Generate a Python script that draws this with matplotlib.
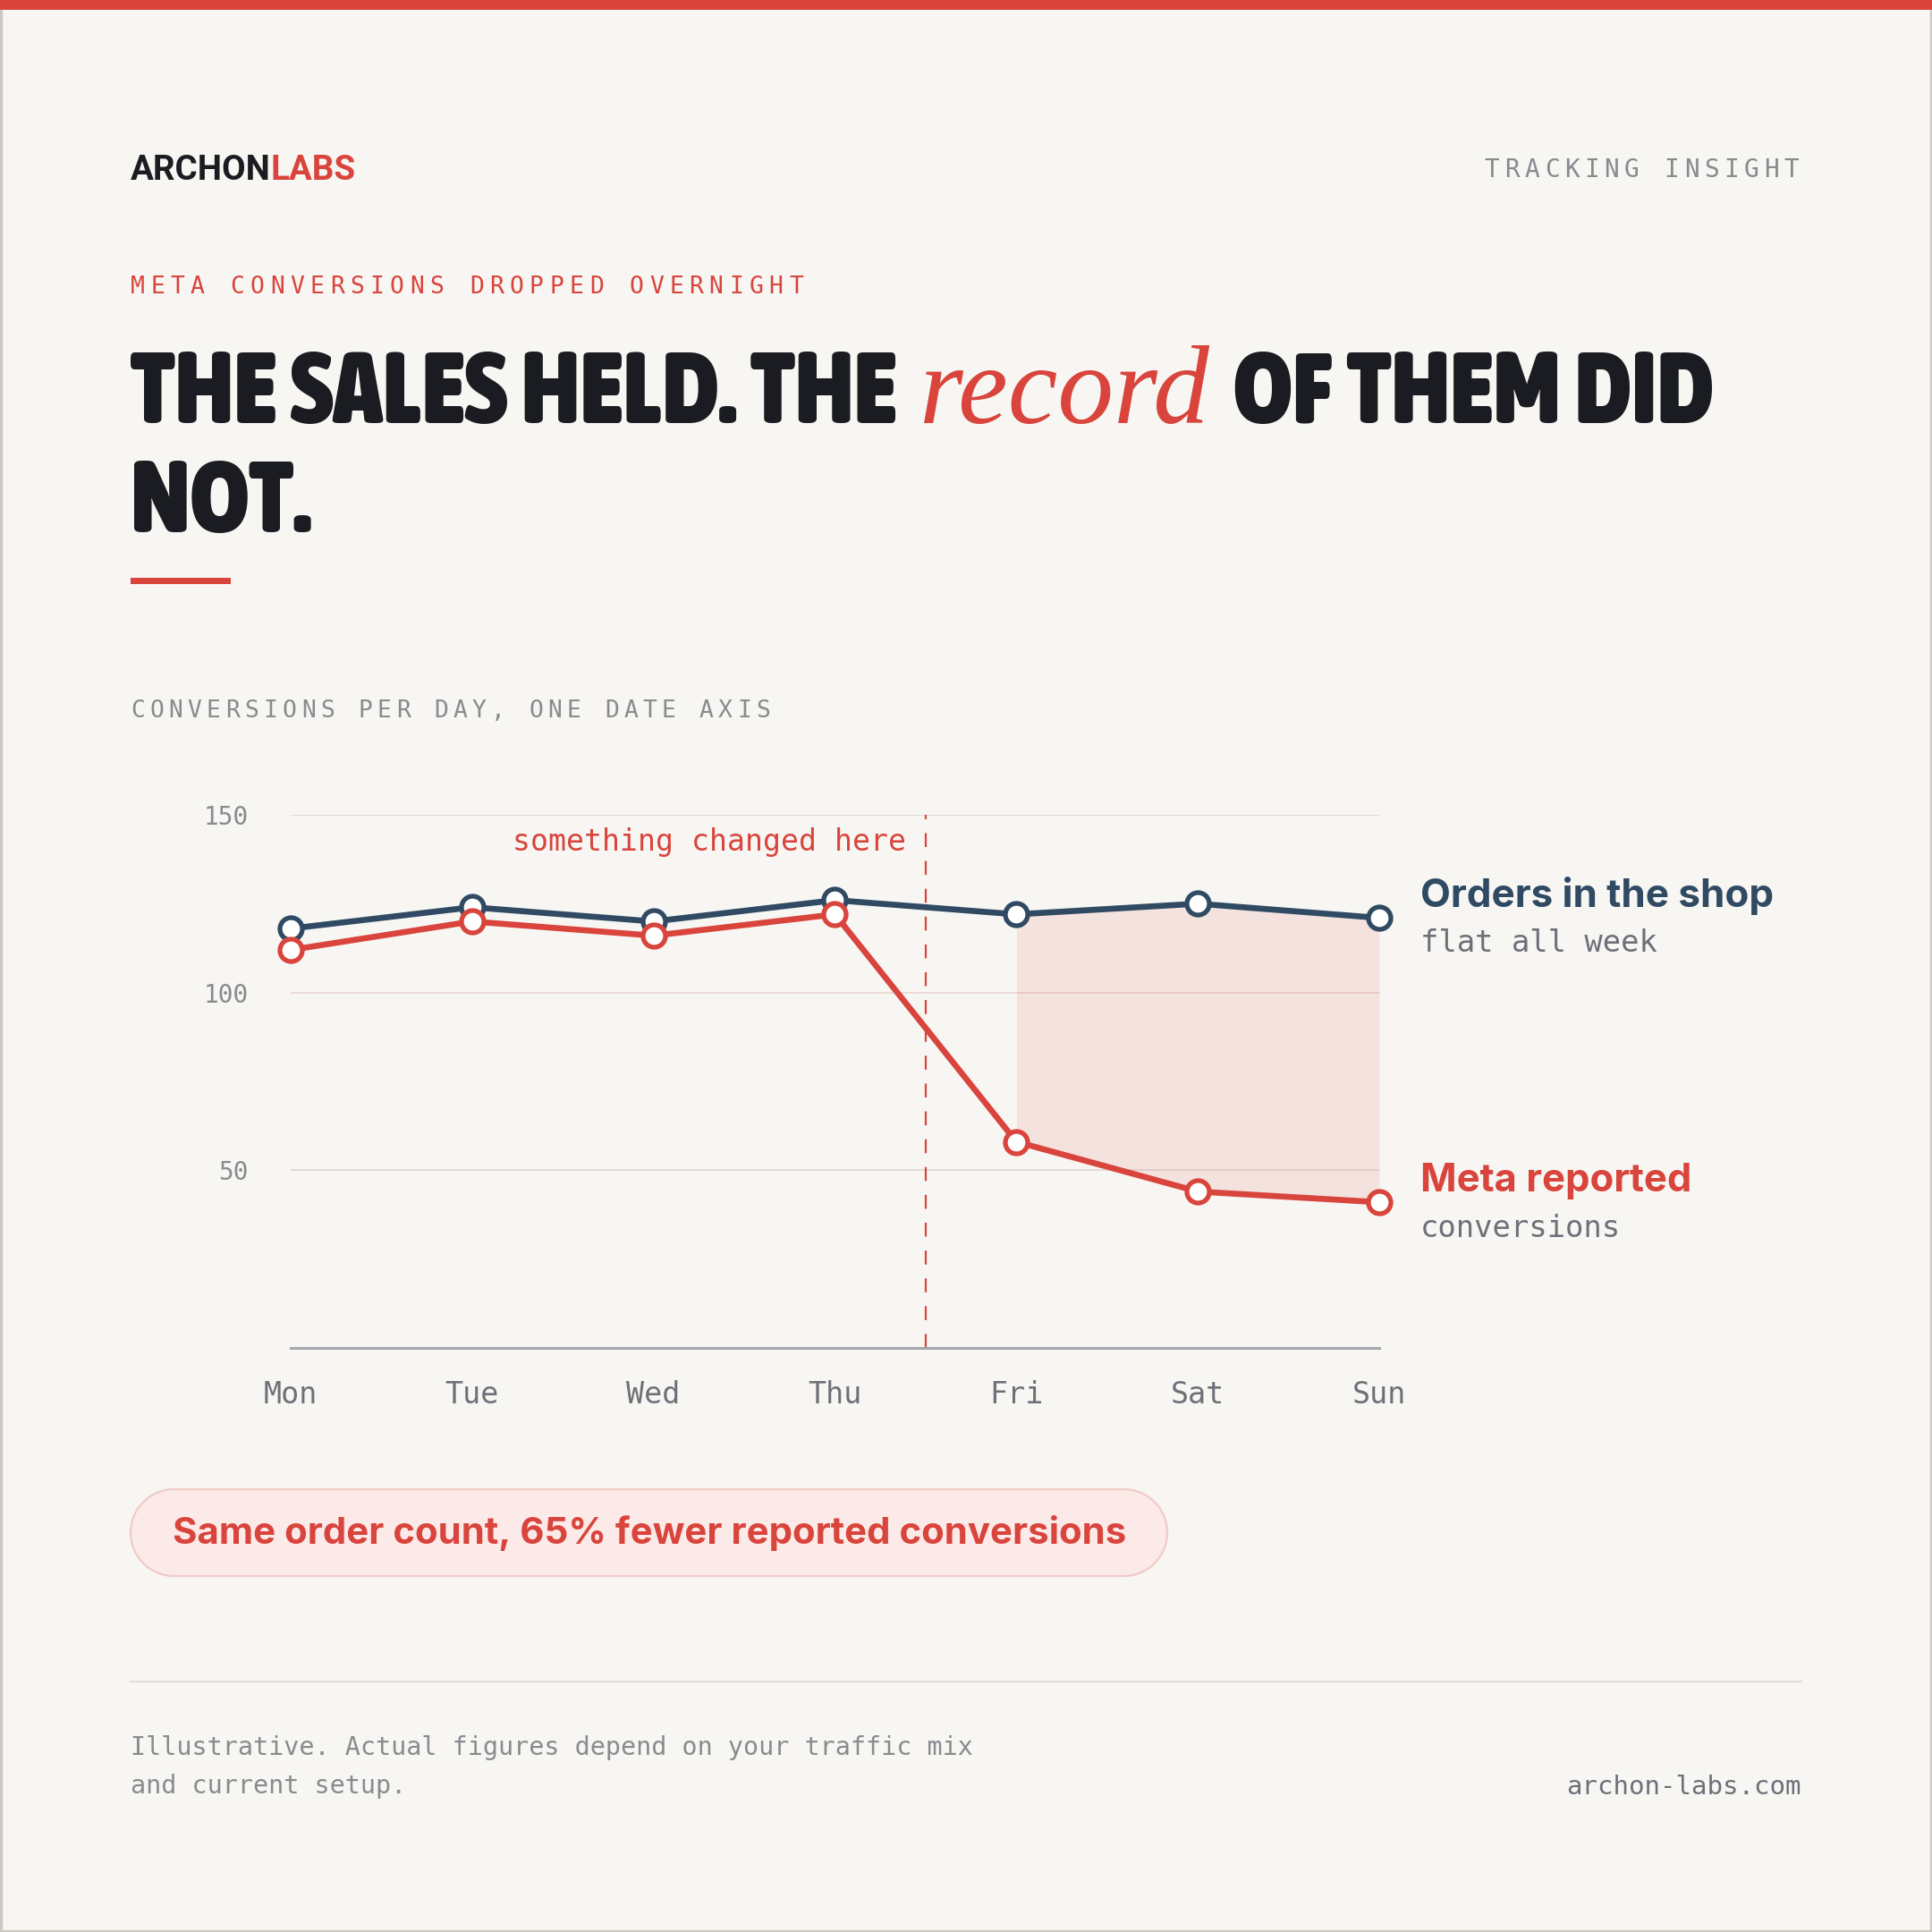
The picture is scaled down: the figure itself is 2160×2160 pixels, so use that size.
import matplotlib
matplotlib.use("Agg")
import matplotlib.pyplot as plt
from matplotlib import font_manager as fm
from matplotlib.patches import Rectangle, Polygon
import numpy as np

# data
days = ["Mon", "Tue", "Wed", "Thu", "Fri", "Sat", "Sun"]
shop_orders = [118, 124, 120, 126, 122, 125, 121]
meta_reported = [112, 120, 116, 122, 58, 44, 41]
y_ticks = [50, 100, 150]
change_at = 3.5          # between Thu and Fri
gap_from = 4             # shaded gap starts Fri

BG = "#f7f6f3"
RED = "#d9443c"
INK = "#1b1c21"
BLUE = "#2f4a62"
GREY = "#8a8a8f"
DGREY = "#6e7078"
MONO = "DejaVu Sans Mono"


def pick_condensed():
    best = None
    for f in fm.fontManager.ttflist:
        st = f.stretch if isinstance(f.stretch, int) else fm.stretch_dict.get(f.stretch, 500)
        wt = f.weight if isinstance(f.weight, int) else fm.weight_dict.get(f.weight, 400)
        if f.style != "normal" or wt < 700 or st >= 500:
            continue
        key = (st, -wt)
        if best is None or key < best[0]:
            best = (key, f.fname)
    if best:
        return fm.FontProperties(fname=best[1])
    return fm.FontProperties(family="DejaVu Sans", weight="heavy")


TITLE_FP = pick_condensed()

fig = plt.figure(figsize=(10.8, 10.8), dpi=200, facecolor=BG)
bg = fig.add_axes([0, 0, 1, 1], zorder=0)
bg.set_xlim(0, 2160)
bg.set_ylim(2160, 0)
bg.axis("off")
R = fig.canvas.get_renderer()


def fit(t, width):
    w = t.get_window_extent(R).width
    t.set_fontsize(t.get_fontsize() * width / w)
    return t


def tracked(x, y, s, adv, size, color, align="left"):
    if align == "right":
        x = x - adv * (len(s) - 1) - 0.602 * size * 200 / 72
    for i, ch in enumerate(s):
        if ch != " ":
            bg.text(x + i * adv, y, ch, family=MONO, size=size, color=color,
                    ha="left", va="baseline")


def pill(x0, y0, w, h, **kw):
    r = h / 2
    cy = y0 + r
    a1 = np.linspace(np.pi / 2, 3 * np.pi / 2, 60)
    a2 = np.linspace(-np.pi / 2, np.pi / 2, 60)
    xs = np.r_[x0 + r + r * np.cos(a1), x0 + w - r + r * np.cos(a2)]
    ys = np.r_[cy + r * np.sin(a1), cy + r * np.sin(a2)]
    bg.add_patch(Polygon(np.c_[xs, ys], closed=True, **kw))


# frame + top bar
bg.add_patch(Rectangle((1, 1), 2158, 2158, fill=False, ec="#cbc9c2", lw=1.2))
bg.add_patch(Rectangle((0, 0), 2160, 11, color=RED, lw=0))

# logo
tmp = bg.text(146, 201, "ARCHONLABS", family="Roboto", weight="bold", size=14)
fit(tmp, 252)
ls = tmp.get_fontsize()
tmp.remove()
t1 = bg.text(146, 201, "ARCHON", family="Roboto", weight="bold", size=ls,
             color=INK, va="baseline")
w1 = t1.get_window_extent(R).width
bg.text(146 + w1, 201, "LABS", family="Roboto", weight="bold", size=ls,
        color=RED, va="baseline")

tracked(2011, 198, "TRACKING INSIGHT", 22.3, 10, GREY, align="right")
tracked(146, 328, "META CONVERSIONS DROPPED OVERNIGHT", 22.3, 9.5, RED)

# headline
h1 = bg.text(146, 473, "THE SALES HELD. THE", fontproperties=TITLE_FP, size=50,
             color=INK, va="baseline")
fit(h1, 856)
hs = h1.get_fontsize()
rec = bg.text(1028, 473, "record", family="Liberation Serif", style="italic",
              size=50, color=RED, va="baseline")
fit(rec, 325)
bg.text(1379, 473, "OF THEM DID", fontproperties=TITLE_FP, size=hs,
        color=INK, va="baseline")
bg.text(146, 595, "NOT.", fontproperties=TITLE_FP, size=hs,
        color=INK, va="baseline")
bg.add_patch(Rectangle((146, 646), 112, 7, color=RED, lw=0))

tracked(146, 802, "CONVERSIONS PER DAY, ONE DATE AXIS", 21.2, 9.5, GREY)

# chart
ax = fig.add_axes([325 / 2160, 1 - 1507 / 2160, (1542 - 325) / 2160, (1507 - 911) / 2160],
                  zorder=2)
ax.set_facecolor("none")
x = np.arange(len(days))
ax.set_xlim(0, len(days) - 1)
ax.set_ylim(0, 150)
for v in y_ticks:
    ax.axhline(v, color="#ecd6d3" if v == 100 else "#dcd9d3", lw=0.6, zorder=1)
for s in ["top", "left", "right"]:
    ax.spines[s].set_visible(False)
ax.spines["bottom"].set_color("#a6a6ab")
ax.spines["bottom"].set_linewidth(1.1)
ax.set_yticks(y_ticks)
ax.set_yticklabels([str(v) for v in y_ticks], family=MONO, size=10, color=GREY)
ax.set_xticks(x)
ax.set_xticklabels(days, family=MONO, size=12, color=DGREY)
ax.tick_params(axis="y", length=0, pad=17)
ax.tick_params(axis="x", length=0, pad=13)

ax.fill_between(x[gap_from:], meta_reported[gap_from:], shop_orders[gap_from:],
                color=RED, alpha=0.11, lw=0, zorder=1)
ax.axvline(change_at, color=RED, lw=0.8, dashes=(7, 7), zorder=2)
ann = ax.text(change_at - 0.11, 140, "something changed here", family=MONO, size=11,
              color=RED, ha="right", va="baseline")
fit(ann, 439)
ax.plot(x, shop_orders, color=BLUE, lw=2.4, marker="o", ms=9, mfc="white",
        mec=BLUE, mew=1.9, clip_on=False, zorder=4)
ax.plot(x, meta_reported, color=RED, lw=2.4, marker="o", ms=9, mfc="white",
        mec=RED, mew=1.9, clip_on=False, zorder=5)

# series labels
fit(bg.text(1588, 1014, "Orders in the shop", family="Inter", weight="bold", size=16,
            color=BLUE, va="baseline"), 395)
fit(bg.text(1588, 1064, "flat all week", family=MONO, size=12, color=DGREY,
            va="baseline"), 266)
fit(bg.text(1588, 1332, "Meta reported", family="Inter", weight="bold", size=16,
            color=RED, va="baseline"), 303)
fit(bg.text(1588, 1383, "conversions", family=MONO, size=12, color=DGREY,
            va="baseline"), 225)

# callout pill
pill(146, 1665, 1159, 97, fc="#fbeae8", ec="#f1cbc6", lw=0.8)
fit(bg.text(193, 1714, "Same order count, 65% fewer reported conversions",
            family="Inter", weight="bold", size=16, color=RED, va="center"), 1066)

# footer
bg.plot([146, 2014], [1880, 1880], color="#dcd9d3", lw=0.6)
foot = fit(bg.text(146, 1962, "Illustrative. Actual figures depend on your traffic mix",
                   family=MONO, size=10, color=GREY, va="baseline"), 941)
bg.text(146, 2005, "and current setup.", family=MONO,
        size=foot.get_fontsize(), color=GREY, va="baseline")
fit(bg.text(2014, 2006, "archon-labs.com", family=MONO, size=10, color=DGREY,
            ha="right", va="baseline"), 264)

fig.savefig("out.png", dpi=200, facecolor=BG)
